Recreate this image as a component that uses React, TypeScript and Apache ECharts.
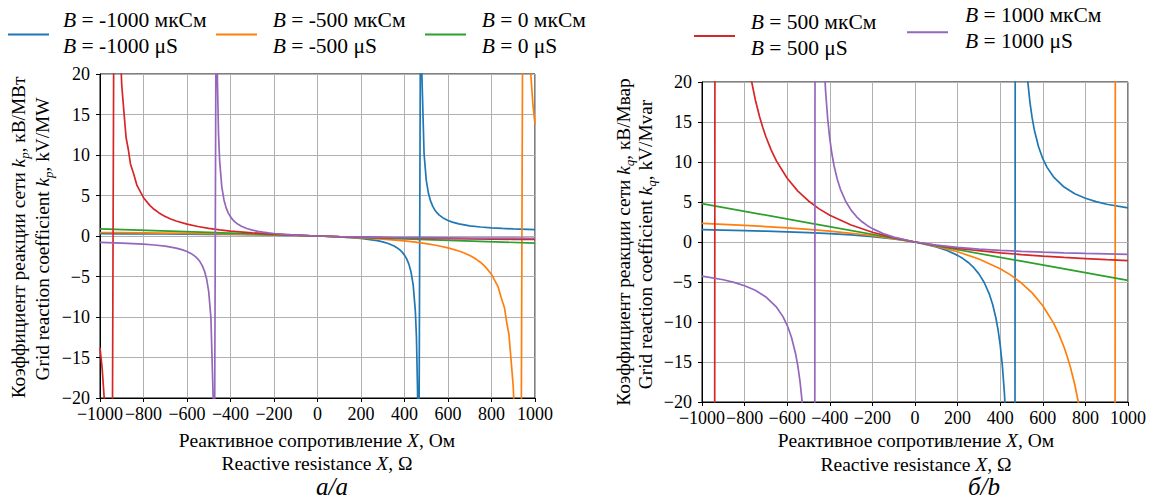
import React, { useEffect, useRef } from "react";
import * as echarts from "echarts";

// ---------- data ----------
const B_VALUES = [-1000, -500, 0, 500, 1000];
const COLORS = ["#1f77b4", "#ff7f0e", "#2ca02c", "#d62728", "#9467bd"];
const X_TICK_INTERVAL = 200;
const Y_TICK_INTERVAL = 5;

// chart a: k_p, kV/MW
const kpBm1000: number[][] = [[-1000,0.28],[-900,0.27],[-800,0.26],[-700,0.25],[-600,0.23],[-500,0.21],[-400,0.19],[-300,0.16],[-200,0.12],[-100,0.07],[0,0],[100,-0.11],[150,-0.19],[200,-0.31],[225,-0.38],[250,-0.47],[275,-0.58],[300,-0.73],[325,-0.93],[350,-1.21],[365,-1.44],[380,-1.75],[390,-2.02],[400,-2.36],[410,-2.83],[420,-3.47],[430,-4.45],[440,-6.07],[450,-9.31],[455,-12.55],[460,-19.03],[465,-38.46],[475,39.29],[480,19.85],[490,10.13],[500,6.89],[510,5.27],[520,4.3],[530,3.65],[540,3.19],[550,2.85],[560,2.57],[580,2.18],[600,1.91],[620,1.71],[650,1.49],[700,1.26],[750,1.11],[800,1.0],[850,0.93],[900,0.87],[1000,0.78]];
const kpBm500: number[][] = [[-1000,0.43],[-900,0.41],[-800,0.38],[-700,0.35],[-600,0.32],[-500,0.29],[-400,0.25],[-300,0.2],[-200,0.15],[-100,0.08],[0,0],[100,-0.1],[200,-0.22],[300,-0.39],[400,-0.61],[450,-0.76],[500,-0.94],[550,-1.17],[600,-1.46],[650,-1.85],[675,-2.1],[700,-2.41],[715,-2.63],[730,-2.88],[750,-3.27],[770,-3.75],[800,-4.73],[830,-6.24],[845,-7.66],[860,-8.89],[870,-10.71],[880,-12.13],[890,-15.33],[900,-18.61],[910,-25.09],[920,-38.05],[930,-76.93],[950,78.58],[960,39.71],[970,26.75],[980,20.27],[990,16.38],[1000,13.79]];
const kpB0: number[][] = [[-1000,0.88],[-500,0.44],[0,0],[500,-0.44],[1000,-0.88]];
const kpB500: number[][] = [[-1000,-13.79],[-990,-16.38],[-980,-20.27],[-970,-26.75],[-960,-39.71],[-950,-78.58],[-930,76.93],[-920,38.05],[-910,25.09],[-900,18.61],[-890,15.33],[-880,12.13],[-870,10.71],[-860,8.89],[-845,7.66],[-830,6.24],[-800,4.73],[-770,3.75],[-750,3.27],[-730,2.88],[-715,2.63],[-700,2.41],[-675,2.1],[-650,1.85],[-600,1.46],[-550,1.17],[-500,0.94],[-450,0.76],[-400,0.61],[-300,0.39],[-200,0.22],[-100,0.1],[0,0],[100,-0.08],[200,-0.15],[300,-0.2],[400,-0.25],[500,-0.29],[600,-0.32],[700,-0.35],[800,-0.38],[900,-0.41],[1000,-0.43]];
const kpB1000: number[][] = [[-1000,-0.78],[-900,-0.87],[-850,-0.93],[-800,-1.0],[-750,-1.11],[-700,-1.26],[-650,-1.49],[-620,-1.71],[-600,-1.91],[-580,-2.18],[-560,-2.57],[-550,-2.85],[-540,-3.19],[-530,-3.65],[-520,-4.3],[-510,-5.27],[-500,-6.89],[-490,-10.13],[-480,-19.85],[-475,-39.29],[-465,38.46],[-460,19.03],[-455,12.55],[-450,9.31],[-440,6.07],[-430,4.45],[-420,3.47],[-410,2.83],[-400,2.36],[-390,2.02],[-380,1.75],[-365,1.44],[-350,1.21],[-325,0.93],[-300,0.73],[-275,0.58],[-250,0.47],[-225,0.38],[-200,0.31],[-150,0.19],[-100,0.11],[0,0],[100,-0.07],[200,-0.12],[300,-0.16],[400,-0.19],[500,-0.21],[600,-0.23],[700,-0.25],[800,-0.26],[900,-0.27],[1000,-0.28]];

// chart b: k_q, kV/Mvar
const kqBm1000: number[][] = [[-1000,1.54],[-900,1.48],[-800,1.42],[-700,1.35],[-600,1.27],[-500,1.16],[-400,1.04],[-300,0.88],[-200,0.67],[-100,0.4],[0,0],[100,-0.61],[150,-1.06],[200,-1.67],[225,-2.07],[250,-2.56],[275,-3.18],[300,-3.98],[325,-5.06],[350,-6.58],[365,-7.84],[380,-9.53],[390,-11.0],[400,-12.89],[410,-15.42],[420,-18.95],[430,-24.25],[440,-33.09],[450,-50.76],[455,-68.43],[460,-103.8],[465,-209.8],[475,214.3],[480,108.3],[490,55.27],[500,37.6],[510,28.76],[520,23.46],[530,19.93],[540,17.4],[550,15.51],[560,14.04],[580,11.9],[600,10.41],[620,9.33],[650,8.15],[700,6.87],[750,6.04],[800,5.47],[850,5.05],[900,4.72],[1000,4.26]];
const kqBm500: number[][] = [[-1000,2.33],[-900,2.21],[-800,2.07],[-700,1.93],[-600,1.76],[-500,1.57],[-400,1.35],[-300,1.09],[-200,0.79],[-100,0.43],[0,0],[100,-0.54],[200,-1.22],[300,-2.12],[400,-3.34],[450,-4.14],[500,-5.13],[550,-6.36],[600,-7.96],[650,-10.11],[675,-11.49],[700,-13.16],[715,-14.34],[730,-15.68],[750,-17.81],[770,-20.44],[800,-25.78],[830,-34.04],[845,-40.13],[860,-48.5],[870,-56.08],[880,-66.18],[890,-80.31],[900,-101.5],[910,-136.9],[920,-207.6],[930,-419.6],[950,428.6],[960,216.6],[970,145.9],[980,110.5],[990,89.34],[1000,75.2]];
const kqB0: number[][] = [[-1000,4.8],[-500,2.4],[0,0],[500,-2.4],[1000,-4.8]];
const kqB500: number[][] = [[-1000,-75.2],[-990,-89.34],[-980,-110.5],[-970,-145.9],[-960,-216.6],[-950,-428.6],[-930,419.6],[-920,207.6],[-910,136.9],[-900,101.5],[-890,80.31],[-880,66.18],[-870,56.08],[-860,48.5],[-845,40.13],[-830,34.04],[-800,25.78],[-770,20.44],[-750,17.81],[-730,15.68],[-715,14.34],[-700,13.16],[-675,11.49],[-650,10.11],[-600,7.96],[-550,6.36],[-500,5.13],[-450,4.14],[-400,3.34],[-300,2.12],[-200,1.22],[-100,0.54],[0,0],[100,-0.43],[200,-0.79],[300,-1.09],[400,-1.35],[500,-1.57],[600,-1.76],[700,-1.93],[800,-2.07],[900,-2.21],[1000,-2.33]];
const kqB1000: number[][] = [[-1000,-4.26],[-900,-4.72],[-850,-5.05],[-800,-5.47],[-750,-6.04],[-700,-6.87],[-650,-8.15],[-620,-9.33],[-600,-10.41],[-580,-11.9],[-560,-14.04],[-550,-15.51],[-540,-17.4],[-530,-19.93],[-520,-23.46],[-510,-28.76],[-500,-37.6],[-490,-55.27],[-480,-108.3],[-475,-214.3],[-465,209.8],[-460,103.8],[-455,68.43],[-450,50.76],[-440,33.09],[-430,24.25],[-420,18.95],[-410,15.42],[-400,12.89],[-390,11.0],[-380,9.53],[-365,7.84],[-350,6.58],[-325,5.06],[-300,3.98],[-275,3.18],[-250,2.56],[-225,2.07],[-200,1.67],[-150,1.06],[-100,0.61],[0,0],[100,-0.4],[200,-0.67],[300,-0.88],[400,-1.04],[500,-1.16],[600,-1.27],[700,-1.35],[800,-1.42],[900,-1.48],[1000,-1.54]];

const KP_SERIES = [kpBm1000, kpBm500, kpB0, kpB500, kpB1000];
const KQ_SERIES = [kqBm1000, kqBm500, kqB0, kqB500, kqB1000];

// ---------- layout / style ----------
const FONT = "Liberation Serif, Times New Roman, serif";
const GRIDS = [
  { left: 100, top: 74, width: 435, height: 324 },
  { left: 702, top: 82, width: 428, height: 320 },
];
const LEGEND_POS = [
  { lx: 8, ly: 34.5, tx: 63, t1: 20, t2: 46 },
  { lx: 216, ly: 34.5, tx: 272.7, t1: 20, t2: 46 },
  { lx: 425, ly: 34.5, tx: 481.7, t1: 20, t2: 46 },
  { lx: 694, ly: 36, tx: 750.7, t1: 21.7, t2: 47.5 },
  { lx: 907, ly: 32.3, tx: 965, t1: 15, t2: 40.5 },
];

const fmt = (v: number) => String(v).replace("-", "\u2212");

const titleRich = (size: number) => ({
  n: { fontFamily: FONT, fontSize: size, lineHeight: 26, fill: "#000", color: "#000" },
  i: { fontFamily: FONT, fontSize: size, fontStyle: "italic", lineHeight: 26, fill: "#000", color: "#000" },
  s: { fontFamily: FONT, fontSize: 13, fontStyle: "italic", lineHeight: 13, verticalAlign: "bottom", fill: "#000", color: "#000" },
});

function textEl(x: number, y: number, text: string, opts: any = {}) {
  return {
    type: "text",
    x,
    y,
    rotation: opts.rotation || 0,
    silent: true,
    style: {
      text,
      rich: opts.rich,
      fontFamily: FONT,
      fontSize: opts.fontSize || 19,
      fontStyle: opts.fontStyle || "normal",
      fill: "#000",
      align: opts.align || "center",
      verticalAlign: opts.verticalAlign || "middle",
    },
  };
}

export default function App() {
  const ref = useRef<HTMLDivElement>(null);
  useEffect(() => {
    const chart = echarts.init(ref.current!, null, { renderer: "svg" });

    const xAxis = GRIDS.map((_, gi) => ({
      type: "value",
      gridIndex: gi,
      min: -1000,
      max: 1000,
      interval: X_TICK_INTERVAL,
      axisLine: { show: true, onZero: false, lineStyle: { color: "#000", width: 1 } },
      axisTick: { show: true, inside: false, length: 4, lineStyle: { color: "#000" } },
      axisLabel: { fontFamily: FONT, fontSize: 18, color: "#000", margin: 7, formatter: fmt, hideOverlap: false },
      splitLine: { show: true, lineStyle: { color: "#b0b0b0", width: 1 } },
    }));
    const yAxis = GRIDS.map((_, gi) => ({
      type: "value",
      gridIndex: gi,
      min: -20,
      max: 20,
      interval: Y_TICK_INTERVAL,
      axisLine: { show: true, onZero: false, lineStyle: { color: "#000", width: 1 } },
      axisTick: { show: true, inside: false, length: 4, lineStyle: { color: "#000" } },
      axisLabel: { fontFamily: FONT, fontSize: 18, color: "#000", margin: 10, formatter: fmt },
      splitLine: { show: true, lineStyle: { color: "#b0b0b0", width: 1 } },
    }));

    const series: any[] = [];
    [KP_SERIES, KQ_SERIES].forEach((set, gi) => {
      set.forEach((data, si) => {
        series.push({
          type: "line",
          name: `B = ${B_VALUES[si]}`,
          xAxisIndex: gi,
          yAxisIndex: gi,
          data,
          showSymbol: false,
          symbol: "none",
          clip: true,
          silent: true,
          lineStyle: { color: COLORS[si], width: 1.7 },
          itemStyle: { color: COLORS[si] },
        });
      });
    });

    const graphic: any[] = [];
    // legend
    B_VALUES.forEach((b, i) => {
      const p = LEGEND_POS[i];
      graphic.push({
        type: "line",
        silent: true,
        shape: { x1: p.lx, y1: p.ly, x2: p.lx + 41, y2: p.ly },
        style: { stroke: COLORS[i], lineWidth: 2 },
      });
      const rich = {
        n: { fontFamily: FONT, fontSize: 21.5, fill: "#000", color: "#000" },
        i: { fontFamily: FONT, fontSize: 21.5, fontStyle: "italic", fill: "#000", color: "#000" },
      };
      graphic.push(textEl(p.tx, p.t1, `{i|B}{n| = ${b} мкСм}`, { rich, align: "left", fontSize: 21.5 }));
      graphic.push(textEl(p.tx, p.t2, `{i|B}{n| = ${b} μS}`, { rich, align: "left", fontSize: 21.5 }));
    });

    // y-axis titles
    const rot = Math.PI / 2;
    graphic.push(textEl(18, 237.5, "{n|Коэффициент реакции сети }{i|k}{s|p}{n|, кВ/МВт}", { rich: titleRich(19.3), rotation: rot }));
    graphic.push(textEl(42, 239, "{n|Grid reaction coefficient }{i|k}{s|p}{n|, kV/MW}", { rich: titleRich(19.3), rotation: rot }));
    graphic.push(textEl(623, 242, "{n|Коэффициент реакции сети }{i|k}{s|q}{n|, кВ/Мвар}", { rich: titleRich(19.3), rotation: rot }));
    graphic.push(textEl(645, 244.5, "{n|Grid reaction coefficient }{i|k}{s|q}{n|, kV/Mvar}", { rich: titleRich(19.3), rotation: rot }));

    // x-axis titles
    graphic.push(textEl(317, 440, "{n|Реактивное сопротивление }{i|X}{n|, Ом}", { rich: titleRich(19.5) }));
    graphic.push(textEl(317, 463, "{n|Reactive resistance }{i|X}{n|, Ω}", { rich: titleRich(19.5) }));
    graphic.push(textEl(916, 440, "{n|Реактивное сопротивление }{i|X}{n|, Ом}", { rich: titleRich(19.5) }));
    graphic.push(textEl(916, 464, "{n|Reactive resistance }{i|X}{n|, Ω}", { rich: titleRich(19.5) }));

    // captions
    graphic.push(textEl(332, 498.5, "а/a", { fontSize: 25, fontStyle: "italic", verticalAlign: "bottom" }));
    graphic.push(textEl(984, 498.5, "б/b", { fontSize: 25, fontStyle: "italic", verticalAlign: "bottom" }));

    chart.setOption({
      animation: false,
      backgroundColor: "#fff",
      grid: GRIDS.map((g) => ({ ...g, show: true, borderColor: "#000", borderWidth: 1, backgroundColor: "transparent" })),
      xAxis,
      yAxis,
      series,
      graphic,
    });
    return () => chart.dispose();
  }, []);
  return (
    <div
      ref={ref}
      style={{ position: "absolute", left: 0, top: 0, width: 1149, height: 499, background: "#fff" }}
    />
  );
}
